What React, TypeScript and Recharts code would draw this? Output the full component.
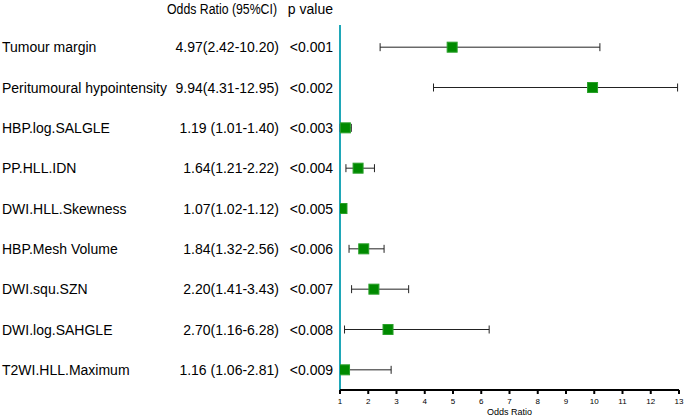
import { ScatterChart, Scatter, XAxis, YAxis, ErrorBar, ReferenceLine } from 'recharts';

const features = [
  'Tumour margin',
  'Peritumoural hypointensity',
  'HBP.log.SALGLE',
  'PP.HLL.IDN',
  'DWI.HLL.Skewness',
  'HBP.Mesh Volume',
  'DWI.squ.SZN',
  'DWI.log.SAHGLE',
  'T2WI.HLL.Maximum',
];
const oddsRatios = [4.97, 9.94, 1.19, 1.64, 1.07, 1.84, 2.2, 2.7, 1.16];
const ciLower = [2.42, 4.31, 1.01, 1.21, 1.02, 1.32, 1.41, 1.16, 1.06];
const ciUpper = [10.2, 12.95, 1.4, 2.22, 1.12, 2.56, 3.43, 6.28, 2.81];
const orLabels = [
  '4.97(2.42-10.20)',
  '9.94(4.31-12.95)',
  '1.19 (1.01-1.40)',
  '1.64(1.21-2.22)',
  '1.07(1.02-1.12)',
  '1.84(1.32-2.56)',
  '2.20(1.41-3.43)',
  '2.70(1.16-6.28)',
  '1.16 (1.06-2.81)',
];
const pValues = ['<0.001', '<0.002', '<0.003', '<0.004', '<0.005', '<0.006', '<0.007', '<0.008', '<0.009'];
const xTicks = [1, 2, 3, 4, 5, 6, 7, 8, 9, 10, 11, 12, 13];

const FONT = '"Liberation Sans", Arial, sans-serif';

const data = features.map((name, i) => ({
  row: i + 1,
  name,
  or: oddsRatios[i],
  err: [oddsRatios[i] - ciLower[i], ciUpper[i] - oddsRatios[i]],
}));

const RowTick = (props: any) => {
  const { y, payload } = props;
  const i = payload.value - 1;
  if (i < 0 || i >= features.length) return null;
  return (
    <g fontFamily={FONT} fontSize={14} fill="#000">
      <text x={2} y={y + 5} textAnchor="start">{features[i]}</text>
      <text x={279} y={y + 5} textAnchor="end">{orLabels[i]}</text>
      <text x={333} y={y + 5} textAnchor="end">{pValues[i]}</text>
    </g>
  );
};

const SquareDot = (props: any) => {
  const { cx, cy } = props;
  return <rect x={cx - 5} y={cy - 5} width={10} height={10} fill="#008a00" stroke="#2aa02a" strokeWidth={1} />;
};

export default function App() {
  return (
    <div style={{ position: 'absolute', left: 0, top: 0, width: 685, height: 418, background: '#fff' }}>
      <ScatterChart width={685} height={418} margin={{ top: 25, right: 6, bottom: 0, left: 0 }}>
        <XAxis
          type="number"
          dataKey="or"
          domain={[1, 13]}
          ticks={xTicks}
          allowDataOverflow
          axisLine={{ stroke: '#000', strokeWidth: 2 }}
          tickLine={{ stroke: '#000', strokeWidth: 2 }}
          tickSize={4}
          tickMargin={4}
          height={28}
          tick={{ fontSize: 8, fill: '#000', fontFamily: FONT }}
          label={{ value: 'Odds Ratio', position: 'insideBottom', offset: 3, fontSize: 9, fill: '#000', fontFamily: FONT }}
        />
        <YAxis
          type="number"
          dataKey="row"
          domain={[0.45, 9.5]}
          ticks={[1, 2, 3, 4, 5, 6, 7, 8, 9]}
          reversed
          width={340}
          axisLine={false}
          tickLine={false}
          tick={<RowTick />}
        />
        <ReferenceLine x={1} stroke="#1fa7b8" strokeWidth={2} />
        <Scatter data={data} shape={<SquareDot />} isAnimationActive={false}>
          <ErrorBar dataKey="err" direction="x" width={4} stroke="#222" strokeWidth={1} />
        </Scatter>
      </ScatterChart>
      <svg width={685} height={25} style={{ position: 'absolute', left: 0, top: 0 }}>
        <g fontFamily={FONT} fontSize={14} fill="#000">
          <text x={167} y={14} textLength={110} lengthAdjust="spacingAndGlyphs">Odds Ratio (95%CI)</text>
          <text x={333} y={14} textAnchor="end">p value</text>
        </g>
      </svg>
    </div>
  );
}
